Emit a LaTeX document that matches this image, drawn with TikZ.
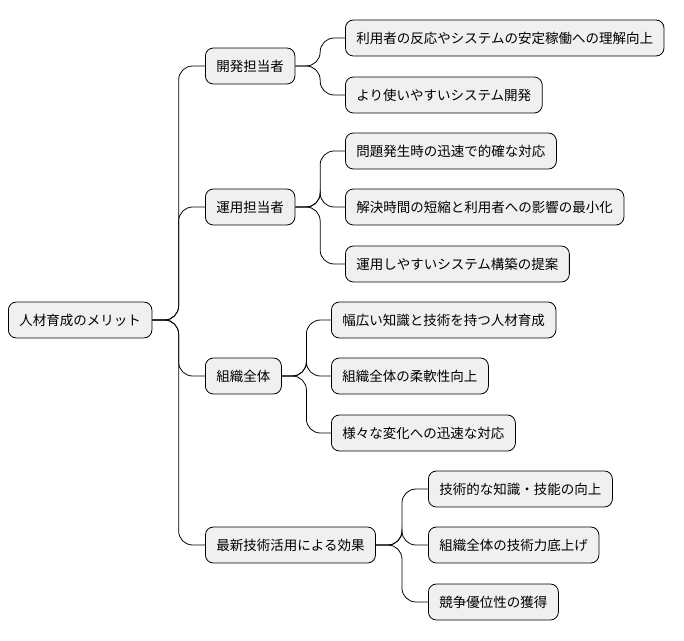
\documentclass[tikz,border=0pt]{standalone}
\usepackage{fontspec}
\newfontfamily\cjk{Noto Sans CJK JP}
\usetikzlibrary{calc}
\begin{document}
\begin{tikzpicture}[x=1pt,y=-1pt,
  box/.style={draw=black,fill=black!6,rounded corners=8pt,minimum height=36pt,inner xsep=11pt,anchor=west,font=\cjk\fontsize{13.5}{16}\selectfont,line width=0.8pt},
  con/.style={draw=black,line width=0.8pt,rounded corners=14pt}]
\useasboundingbox (0,0) rectangle (684,640);
\node[box] (r) at (8,320) {人材育成のメリット};
\node[box] (a) at (205,66) {開発担当者};
\node[box] (b) at (205,207) {運用担当者};
\node[box] (c) at (205,376) {組織全体};
\node[box] (d) at (205,545) {最新技術活用による効果};
\node[box] (a1) at (345,38) {利用者の反応やシステムの安定稼働への理解向上};
\node[box] (a2) at (345,95) {より使いやすいシステム開発};
\node[box] (b1) at (345,151) {問題発生時の迅速で的確な対応};
\node[box] (b2) at (345,207) {解決時間の短縮と利用者への影響の最小化};
\node[box] (b3) at (345,264) {運用しやすいシステム構築の提案};
\node[box] (c1) at (331,320) {幅広い知識と技術を持つ人材育成};
\node[box] (c2) at (331,376) {組織全体の柔軟性向上};
\node[box] (c3) at (331,433) {様々な変化への迅速な対応};
\node[box] (d1) at (428,489) {技術的な知識・技能の向上};
\node[box] (d2) at (428,545) {組織全体の技術力底上げ};
\node[box] (d3) at (428,602) {競争優位性の獲得};
\foreach \p/\c in {r/a,r/b,r/c,r/d,a/a1,a/a2,b/b1,b/b2,b/b3,c/c1,c/c2,c/c3,d/d1,d/d2,d/d3}{
  \draw[con] (\p.east) -- ($(\p.east)!0.5!(\c.west |- \p.east)$) |- (\c.west);
}
\end{tikzpicture}
\end{document}
